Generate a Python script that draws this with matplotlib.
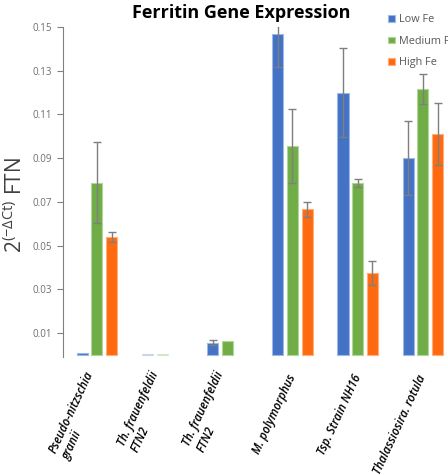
import numpy as np
from matplotlib import pyplot as plt

plt.rcParams["font.family"] = ["Open Sans", "DejaVu Sans"]
plt.rcParams["mathtext.fontset"] = "custom"
plt.rcParams["mathtext.rm"] = "Open Sans"

species = [
    "Pseudo-nitzschia\ngranii",
    "Th. frauenfeldii\nFTN2",
    "Th. frauenfeldii\nFTN2",
    "M. polymorphus",
    "Tsp. Strain NH16",
    "Thalassiosira. rotula",
]
low_fe = [0.001, 0.0005, 0.0056, 0.147, 0.120, 0.090]
med_fe = [0.0787, 0.0005, 0.0064, 0.0957, 0.0786, 0.1217]
high_fe = [0.0541, 0, 0, 0.0667, 0.0374, 0.101]
low_err = [0, 0, 0.0012, 0.0154, 0.0202, 0.017]
med_err = [0.0185, 0, 0, 0.017, 0.0018, 0.0068]
high_err = [0.0022, 0, 0, 0.0034, 0.0056, 0.0142]
yticks = [0.01, 0.03, 0.05, 0.07, 0.09, 0.11, 0.13, 0.15]

fig = plt.figure(figsize=(4.48, 4.75), dpi=100)
ax = fig.add_axes([0.1406, 0.248, 0.876, 0.6952])

x = np.arange(len(species))
w = 0.17
off = 0.225
series = [
    (low_fe, low_err, "#4472C4", "#9DB9E8", "Low Fe", -off),
    (med_fe, med_err, "#70AD47", "#B2D69A", "Medium Fe", 0),
    (high_fe, high_err, "#FF6A10", "#FFB07A", "High Fe", off),
]
for vals, errs, col, edge, lab, dx in series:
    bars = ax.bar(x + dx, vals, w, color=col, edgecolor=edge, linewidth=0.8, label=lab)
    for b, v in zip(bars, vals):
        if v == 0:
            b.set_linewidth(0)
    # faint bars for the near-zero group
    bars[1].set_alpha(0.35)
    e = np.array(errs)
    m = e > 0
    ax.errorbar((x + dx)[m], np.array(vals)[m], yerr=e[m], fmt="none",
                ecolor="#7F7F7F", elinewidth=1, capsize=3, capthick=1)

ax.set_xlim(-0.52, 5.5)
ax.set_ylim(-0.001, 0.15)
ax.set_yticks(yticks)
ax.set_yticklabels([f"{v:.2f}" for v in yticks], fontsize=7, color="#6E6E6E")
ax.tick_params(axis="y", direction="out", length=4, color="#808080", pad=4)
ax.set_xticks(x)
ax.set_xticklabels(species, rotation=65, ha="right", va="center",
                   rotation_mode="anchor", fontsize=8.4, style="italic",
                   fontweight="semibold", multialignment="left")
ax.tick_params(axis="x", length=0, pad=13)
for s in ["top", "right", "bottom"]:
    ax.spines[s].set_visible(False)
ax.spines["left"].set_color("#808080")

fig.text(0.538, 0.972, "Ferritin Gene Expression", ha="center", va="center",
         fontsize=13, fontweight="bold", color="black")
fig.text(0.033, 0.568, r"2$^{(\mathrm{-\Delta Ct})}$ FTN", rotation=90,
         ha="center", va="center", fontsize=15, color="#404040")

ax.legend(loc="upper left", bbox_to_anchor=(0.845, 0.99),
          bbox_transform=fig.transFigure, frameon=False, fontsize=7.8,
          handlelength=0.6, handleheight=0.6, handletextpad=0.4,
          labelspacing=0.95, labelcolor="#595959")

fig.savefig("out.png", dpi=100)
